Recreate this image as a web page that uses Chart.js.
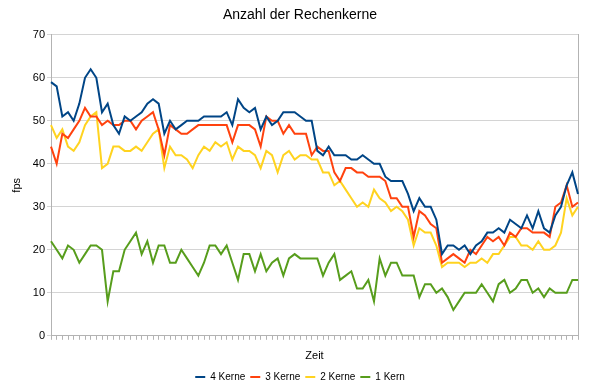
<!DOCTYPE html>
<html>
<head>
<meta charset="utf-8">
<script src="https://cdn.jsdelivr.net/npm/chart.js@4/dist/chart.umd.min.js"></script>
<style>
  html, body { margin: 0; padding: 0; background: #fff; }
  #wrap { width: 600px; height: 392px; }
</style>
</head>
<body>
<div id="wrap"><canvas id="coreChart"></canvas></div>
<script>
// fps per Messpunkt
const kerne4 = [
  59, 58, 51, 52, 50, 54, 60, 62, 60, 52,
  54, 49, 47, 51, 50, 51, 52, 54, 55, 54,
  47, 50, 48, 49, 50, 50, 50, 51, 51, 51,
  51, 52, 49, 55, 53, 52, 53, 48, 51, 49,
  50, 52, 52, 52, 51, 50, 50, 43, 42, 44,
  42, 42, 42, 41, 41, 42, 41, 40, 40, 37,
  36, 36, 36, 33, 29, 32, 30, 30, 27, 19,
  21, 21, 20, 21, 19, 21, 22, 24, 24, 25,
  24, 27, 26, 25, 28, 25, 29, 25, 24, 28,
  30, 35, 38, 33
];
const kerne3 = [
  44, 40, 47, 46, 48, 50, 53, 51, 51, 49,
  50, 49, 49, 50, 50, 48, 50, 51, 52, 48,
  42, 49, 48, 47, 47, 48, 49, 49, 49, 49,
  49, 49, 45, 49, 49, 49, 48, 44, 51, 50,
  50, 47, 49, 47, 47, 47, 42, 44, 43, 43,
  38, 36, 39, 39, 38, 38, 37, 37, 37, 36,
  32, 32, 30, 30, 23, 29, 28, 26, 25, 17,
  18, 19, 18, 17, 20, 19, 21, 23, 22, 23,
  21, 24, 23, 25, 25, 24, 24, 24, 23, 30,
  31, 35, 30, 31
];
const kerne2 = [
  49, 46, 48, 44, 43, 45, 49, 51, 52, 39,
  40, 44, 44, 43, 43, 44, 43, 45, 47, 48,
  39, 44, 42, 42, 41, 39, 42, 44, 43, 45,
  44, 45, 41, 44, 43, 43, 42, 39, 43, 42,
  38, 42, 43, 41, 42, 42, 41, 41, 38, 38,
  35, 36, 34, 32, 30, 31, 30, 34, 32, 31,
  29, 30, 29, 27, 21, 25, 24, 24, 21, 16,
  17, 17, 17, 16, 17, 17, 18, 17, 19, 19,
  21, 23, 23, 21, 21, 20, 22, 20, 20, 21,
  24, 32, 28, 30
];
const kerne1 = [
  22, 20, 18, 21, 20, 17, 19, 21, 21, 20,
  8, 15, 15, 20, 22, 24, 19, 22, 17, 21,
  21, 17, 17, 20, 18, 16, 14, 17, 21, 21,
  19, 21, 17, 13, 19, 19, 15, 19, 15, 17,
  18, 14, 18, 19, 18, 18, 18, 18, 14, 17,
  19, 13, 14, 15, 11, 11, 13, 8, 18, 14,
  17, 17, 14, 14, 14, 9, 12, 12, 10, 11,
  9, 6, 8, 10, 10, 10, 12, 10, 8, 12,
  13, 10, 11, 13, 13, 10, 11, 9, 11, 10,
  10, 10, 13, 13
];
const seriesNames = ["4 Kerne", "3 Kerne", "2 Kerne", "1 Kern"];
const yTicks = [0, 10, 20, 30, 40, 50, 60, 70];
// Messpunkte haben keine Beschriftung auf der x-Achse
const messpunkte = kerne4.map((_, i) => String(i + 1));

const FONT = "'Liberation Sans', Arial, sans-serif";
const GRID = "#d4d4d4";
const AXIS = "#b3b3b3";

function makeSet(label, data, color) {
  return {
    label,
    data,
    borderColor: color,
    backgroundColor: color,
    borderWidth: 2,
    tension: 0,
    pointRadius: 0,
    pointHoverRadius: 0,
    fill: false
  };
}

const ctx = document.getElementById("coreChart").getContext("2d");
const coreChart = new Chart(ctx, {
  type: "line",
  data: {
    labels: messpunkte,
    datasets: [
      makeSet(seriesNames[0], kerne4, "#004586"),
      makeSet(seriesNames[1], kerne3, "#ff420e"),
      makeSet(seriesNames[2], kerne2, "#ffd320"),
      makeSet(seriesNames[3], kerne1, "#579d1c")
    ]
  },
  options: {
    responsive: true,
    maintainAspectRatio: false,
    animation: false,
    layout: { padding: 0 },
    plugins: {
      title: {
        display: true,
        text: "Anzahl der Rechenkerne",
        color: "#000",
        font: { family: FONT, size: 14, weight: "normal" },
        padding: { top: 7, bottom: 11 }
      },
      legend: {
        display: true,
        position: "bottom",
        labels: {
          color: "#000",
          font: { family: FONT, size: 10 },
          usePointStyle: true,
          pointStyle: "line",
          pointStyleWidth: 10,
          padding: 5
        }
      },
      tooltip: { enabled: false }
    },
    scales: {
      x: {
        type: "category",
        offset: false,
        ticks: { display: false },
        grid: { drawOnChartArea: false, drawTicks: true, tickLength: 4, color: AXIS },
        border: { color: AXIS },
        title: {
          display: true,
          text: "Zeit",
          color: "#000",
          font: { family: FONT, size: 11 },
          padding: { top: 10, bottom: 4 }
        }
      },
      y: {
        min: 0,
        max: 70,
        afterBuildTicks: (scale) => { scale.ticks = yTicks.map(v => ({ value: v })); },
        afterFit: (scale) => { scale.width = 51; },
        ticks: { color: "#000", font: { family: FONT, size: 11 }, padding: 2 },
        grid: { color: GRID, tickLength: 4 },
        border: { color: AXIS },
        title: {
          display: true,
          text: "fps",
          color: "#000",
          font: { family: FONT, size: 11 },
          padding: { top: 10, bottom: 0 }
        }
      },
      yRight: {
        position: "right",
        min: 0,
        max: 70,
        ticks: { display: false },
        grid: { drawOnChartArea: false, drawTicks: false },
        border: { color: AXIS },
        afterFit: (scale) => { scale.width = 22; }
      }
    }
  }
});
</script>
</body>
</html>
